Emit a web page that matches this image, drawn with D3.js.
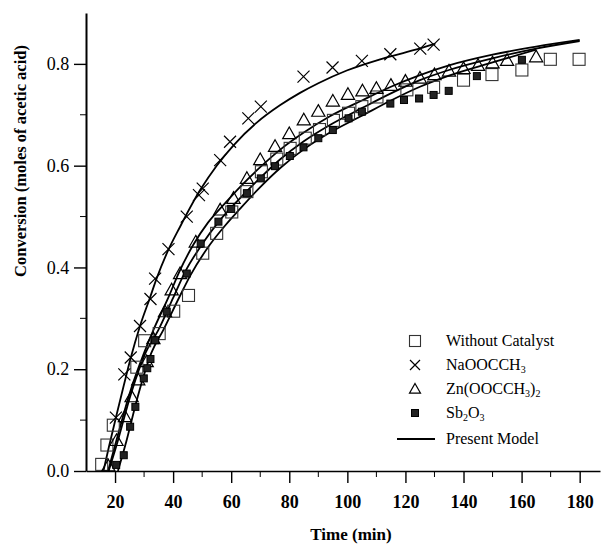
<!DOCTYPE html>
<html>
<head>
<meta charset="utf-8">
<script src="https://cdn.jsdelivr.net/npm/d3@7"></script>
<style>
  body { margin: 0; background: #fff; }
  svg { font-family: "Liberation Serif", "Times New Roman", serif; }
</style>
</head>
<body>
<svg id="chart" width="603" height="544"></svg>
<script>
// Dati: [tempo (min), conversione]
const withoutCatalyst = [[15.4,0.013],[17.2,0.051],[19.4,0.09],[27.5,0.204],[30.2,0.256],[35.2,0.27],[40.2,0.314],[45.3,0.345],[50.2,0.428],[55,0.467],[60.2,0.509],[65.4,0.549],[70.4,0.588],[75.7,0.613],[80.3,0.634],[85.5,0.654],[90.4,0.671],[95.2,0.689],[100.4,0.703],[105,0.716],[110.2,0.735],[120.5,0.749],[129.7,0.754],[140,0.768],[149.8,0.779],[160.1,0.788],[169.9,0.809],[179.8,0.809]];
const naAcetate = [[20.3,0.105],[23.2,0.19],[25.4,0.223],[28.6,0.285],[32.2,0.338],[33.8,0.378],[38.4,0.436],[44.7,0.5],[48.9,0.542],[50.2,0.555],[56.2,0.611],[59.6,0.647],[65.9,0.693],[70.2,0.716],[84.9,0.775],[94.9,0.793],[105,0.806],[114.8,0.819],[125.1,0.83],[129.7,0.838]];
const znAcetate = [[17.7,0.01],[20.5,0.06],[23.4,0.107],[25.7,0.146],[28,0.179],[30.9,0.215],[33.2,0.26],[37.2,0.313],[39.5,0.356],[42.4,0.388],[47.8,0.45],[56.2,0.513],[60.8,0.536],[65.4,0.575],[70,0.612],[75.1,0.638],[80,0.663],[85,0.69],[90,0.707],[95,0.727],[100.2,0.74],[105.2,0.747],[110,0.752],[115,0.758],[120,0.766],[125,0.772],[130,0.779],[135,0.786],[140,0.791],[145,0.797],[150,0.802],[155,0.807],[165,0.814]];
const sbOxide = [[20.4,0.012],[23,0.031],[25.2,0.087],[27,0.126],[29.9,0.182],[31.1,0.202],[32.2,0.22],[33.8,0.257],[37.8,0.313],[44.7,0.388],[49.5,0.447],[55.6,0.49],[60,0.515],[65.4,0.546],[70.2,0.575],[75.1,0.599],[80.2,0.619],[84.9,0.636],[90,0.654],[95,0.67],[100.4,0.693],[105,0.706],[114.8,0.722],[119.5,0.729],[124.7,0.732],[129.7,0.739],[134.9,0.747],[144.6,0.776],[160.1,0.808]];

// Curve del modello
const modelNa = [[16,0],[18,0.05],[20.3,0.105],[23,0.168],[25.3,0.22],[28.6,0.285],[32,0.34],[34.3,0.378],[38,0.43],[42.4,0.48],[49.3,0.552],[55,0.6],[60.8,0.64],[68.9,0.685],[76.9,0.719],[83.7,0.743],[90,0.762],[99.8,0.787],[111.3,0.809],[122.8,0.827],[130.3,0.84]];
const modelZn = [[17.6,0],[20,0.05],[25,0.152],[30,0.232],[33.2,0.277],[38.3,0.34],[42,0.39],[47,0.445],[52,0.488],[58,0.527],[63,0.558],[70,0.597],[77,0.632],[85,0.665],[94,0.697],[105,0.728],[115,0.755],[125,0.778],[135,0.797],[150,0.818],[165,0.834],[180,0.847]];
const modelWithout = [[17.8,0],[20.5,0.05],[25.5,0.152],[30.5,0.232],[34.9,0.277],[40,0.34],[44,0.39],[49.9,0.445],[56,0.492],[62,0.53],[70,0.576],[77,0.613],[85,0.648],[94,0.68],[105,0.713],[115,0.742],[125,0.768],[135,0.788],[150,0.811],[165,0.83],[180,0.845]];
const modelSb = [[21,0],[23.5,0.05],[28,0.15],[32.5,0.232],[36.6,0.277],[42,0.34],[46,0.385],[52.7,0.445],[58,0.483],[63,0.515],[70,0.558],[77,0.596],[85,0.632],[94,0.665],[105,0.698],[115,0.728],[125,0.755],[135,0.777],[150,0.803],[165,0.828]];

const xTicks = [20, 40, 60, 80, 100, 120, 140, 160, 180];
const xMinorTicks = [30, 50, 70, 90, 110, 130, 150, 170];
const yTicks = [0, 0.2, 0.4, 0.6, 0.8];
const yMinorTicks = [0.1, 0.3, 0.5, 0.7];

const svg = d3.select('#chart');

// Scale
const x = d3.scaleLinear().domain([10, 187]).range([86, 600]);
const y = d3.scaleLinear().domain([0, 0.9]).range([471, 13]);

// Asse X
const xAxis = svg.append('g').attr('transform', 'translate(0,' + y(0) + ')');
xAxis.call(d3.axisBottom(x).tickValues(xTicks).tickSize(12).tickSizeOuter(0).tickFormat(d3.format('d')))
  .call(g => g.select('.domain').attr('stroke-width', 1.6))
  .call(g => g.selectAll('.tick line').attr('stroke-width', 1.4))
  .call(g => g.selectAll('.tick text')
    .attr('font-size', 18).attr('font-weight', 'bold').attr('dy', '1.2em')
    .attr('font-family', '"Liberation Serif", serif'));
xAxis.selectAll('.minor').data(xMinorTicks).enter().append('line')
  .attr('x1', d => x(d)).attr('x2', d => x(d))
  .attr('y1', 0).attr('y2', 6)
  .attr('stroke', '#000').attr('stroke-width', 1);

// Asse Y
const yAxis = svg.append('g').attr('transform', 'translate(' + x(10) + ',0)');
yAxis.call(d3.axisLeft(y).tickValues(yTicks).tickSize(12).tickSizeOuter(0).tickFormat(d3.format('.1f')))
  .call(g => g.select('.domain').attr('stroke-width', 2))
  .call(g => g.selectAll('.tick line').attr('stroke-width', 1.4))
  .call(g => g.selectAll('.tick text')
    .attr('font-size', 18).attr('dx', '-0.1em')
    .attr('font-family', '"Liberation Serif", serif'));
yAxis.selectAll('.minor').data(yMinorTicks).enter().append('line')
  .attr('x1', -6).attr('x2', 0)
  .attr('y1', d => y(d)).attr('y2', d => y(d))
  .attr('stroke', '#000').attr('stroke-width', 1);

// Titoli degli assi
svg.append('text')
  .attr('x', 351).attr('y', 540)
  .attr('text-anchor', 'middle')
  .attr('font-size', 17).attr('font-weight', 'bold')
  .text('Time (min)');

svg.append('text')
  .attr('transform', 'translate(26,161) rotate(-90)')
  .attr('text-anchor', 'middle')
  .attr('font-size', 16.5).attr('font-weight', 'bold')
  .text('Conversion (moles of acetic acid)');

// Linee del modello
const line = d3.line()
  .x(d => x(d[0]))
  .y(d => y(d[1]))
  .curve(d3.curveMonotoneX);

[modelNa, modelZn, modelWithout, modelSb].forEach(function (m) {
  svg.append('path')
    .datum(m)
    .attr('fill', 'none')
    .attr('stroke', '#000')
    .attr('stroke-width', 1.8)
    .attr('d', line);
});

// Simboli
function drawSquare(g, s) {
  g.append('rect').attr('x', -s / 2).attr('y', -s / 2).attr('width', s).attr('height', s)
    .attr('fill', 'none').attr('stroke', '#333').attr('stroke-width', 1.1);
}
function drawCross(g, s) {
  g.append('path').attr('d', 'M' + (-s / 2) + ',' + (-s / 2) + 'L' + (s / 2) + ',' + (s / 2) +
    'M' + (-s / 2) + ',' + (s / 2) + 'L' + (s / 2) + ',' + (-s / 2))
    .attr('stroke', '#000').attr('stroke-width', 1.2).attr('fill', 'none');
}
function drawTriangle(g, s) {
  g.append('path').attr('d', 'M0,' + (-s * 0.55) + 'L' + (s * 0.55) + ',' + (s * 0.42) + 'L' + (-s * 0.55) + ',' + (s * 0.42) + 'Z')
    .attr('fill', 'none').attr('stroke', '#000').attr('stroke-width', 1.2);
}
function drawFilled(g, s) {
  g.append('rect').attr('x', -s / 2).attr('y', -s / 2).attr('width', s).attr('height', s)
    .attr('fill', '#222').attr('stroke', '#000').attr('stroke-width', 1);
}

function drawSeries(data, fn, size) {
  data.forEach(function (d) {
    const g = svg.append('g').attr('transform', 'translate(' + x(d[0]) + ',' + y(d[1]) + ')');
    fn(g, size);
  });
}

drawSeries(withoutCatalyst, drawSquare, 12);
drawSeries(znAcetate, drawTriangle, 12);
drawSeries(sbOxide, drawFilled, 7);
drawSeries(naAcetate, drawCross, 12);

// Legenda
const legend = svg.append('g').attr('font-size', 16);
const rows = [341, 365, 389, 413, 439];

const l0 = legend.append('g').attr('transform', 'translate(415,' + rows[0] + ')'); drawSquare(l0, 11);
const l1 = legend.append('g').attr('transform', 'translate(415,' + rows[1] + ')'); drawCross(l1, 10);
const l2 = legend.append('g').attr('transform', 'translate(415,' + rows[2] + ')'); drawTriangle(l2, 10);
const l3 = legend.append('g').attr('transform', 'translate(415,' + rows[3] + ')'); drawFilled(l3, 7);
legend.append('line').attr('x1', 397).attr('x2', 435).attr('y1', rows[4]).attr('y2', rows[4])
  .attr('stroke', '#000').attr('stroke-width', 1.8);

const tx = 446;
legend.append('text').attr('x', tx).attr('y', rows[0] + 5).text('Without Catalyst');

const t1 = legend.append('text').attr('x', tx).attr('y', rows[1] + 5);
t1.append('tspan').text('NaOOCCH');
t1.append('tspan').attr('font-size', 10).attr('dy', 3).text('3');

const t2 = legend.append('text').attr('x', tx).attr('y', rows[2] + 5);
t2.append('tspan').text('Zn(OOCCH');
t2.append('tspan').attr('font-size', 10).attr('dy', 3).text('3');
t2.append('tspan').attr('dy', -3).text(')');
t2.append('tspan').attr('font-size', 10).attr('dy', 3).text('2');

const t3 = legend.append('text').attr('x', tx).attr('y', rows[3] + 5);
t3.append('tspan').text('Sb');
t3.append('tspan').attr('font-size', 10).attr('dy', 3).text('2');
t3.append('tspan').attr('dy', -3).text('O');
t3.append('tspan').attr('font-size', 10).attr('dy', 3).text('3');

legend.append('text').attr('x', tx).attr('y', rows[4] + 5).text('Present Model');
</script>
</body>
</html>
